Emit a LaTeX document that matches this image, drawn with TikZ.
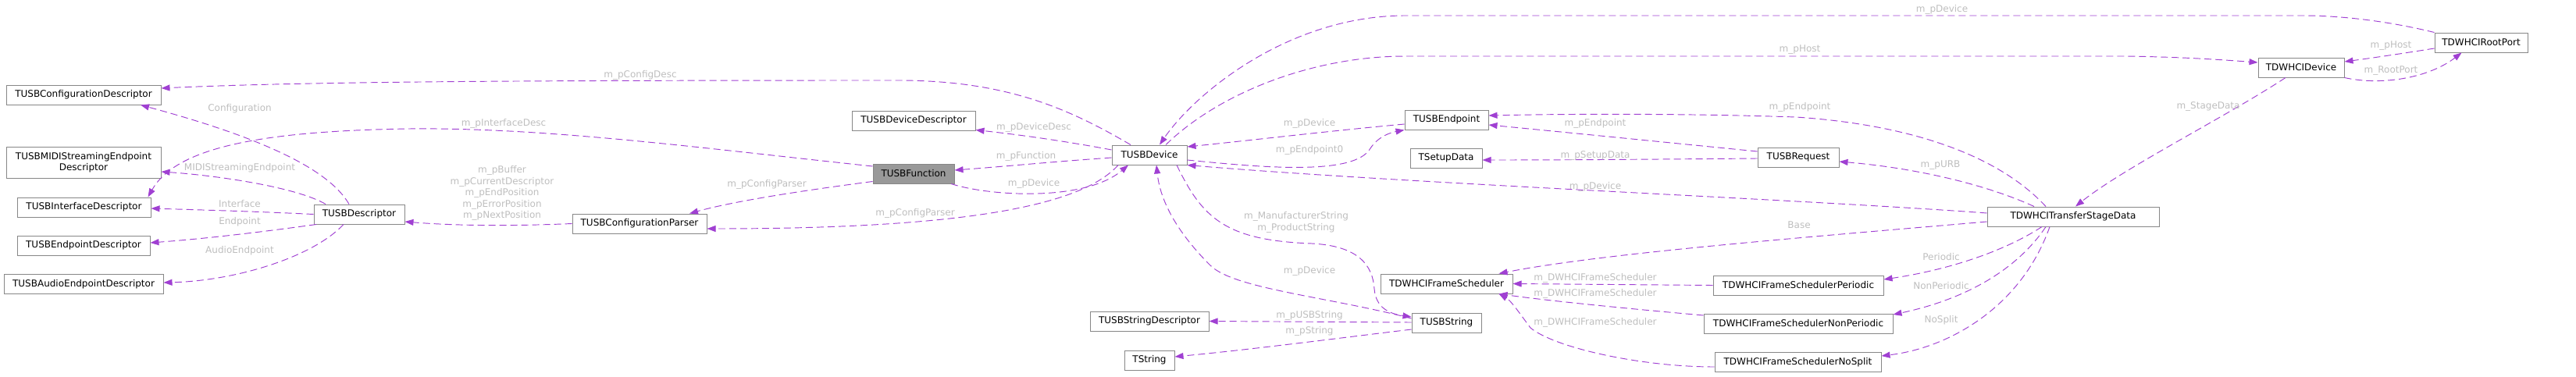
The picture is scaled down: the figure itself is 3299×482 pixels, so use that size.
\documentclass[tikz,border=0pt]{standalone}
\usepackage{fontspec}
\setmainfont{DejaVu Sans}
\usepackage{tikz}
\usetikzlibrary{arrows.meta}
\definecolor{edgepurple}{RGB}{160,64,210}
\definecolor{boxgray}{RGB}{135,135,135}
\definecolor{lblgray}{RGB}{190,190,190}
\definecolor{selgray}{RGB}{153,153,153}

\begin{document}
\begin{tikzpicture}[x=1pt,y=-1pt,
    cls/.style={draw=boxgray, line width=1pt, fill=white, minimum height=25pt, inner sep=0pt,
      font=\fontsize{12}{14.5}\selectfont, align=center},
    lbl/.style={font=\fontsize{12}{14.5}\selectfont, text=lblgray, inner sep=0pt, align=center},
    dep/.style={draw=edgepurple, line width=0.95pt, dash pattern=on 9pt off 5pt,
      -{Triangle[length=11pt,width=8pt]}}]
  \useasboundingbox (0,0) rectangle (3299,482);

  % classes
  \node[cls, minimum width=198pt] (cfgdesc) at (107,121.5) {TUSBConfigurationDescriptor};
  \node[cls, minimum width=198pt, minimum height=40pt] (mididesc) at (107,208) {TUSBMIDIStreamingEndpoint\\Descriptor};
  \node[cls, minimum width=171pt] (ifdesc) at (107.5,265.5) {TUSBInterfaceDescriptor};
  \node[cls, minimum width=170pt] (epdesc) at (107,314.5) {TUSBEndpointDescriptor};
  \node[cls, minimum width=204pt] (audiodesc) at (107,364) {TUSBAudioEndpointDescriptor};
  \node[cls, minimum width=116pt] (desc) at (460,274.5) {TUSBDescriptor};
  \node[cls, minimum width=172pt] (parser) at (819,286.5) {TUSBConfigurationParser};
  \node[cls, minimum width=158pt] (devdesc) at (1170,154.5) {TUSBDeviceDescriptor};
  \node[cls, minimum width=104pt, fill=selgray] (func) at (1170,222.5) {TUSBFunction};
  \node[cls, minimum width=96pt] (dev) at (1472,198.5) {TUSBDevice};
  \node[cls, minimum width=152pt] (strdesc) at (1472,411.5) {TUSBStringDescriptor};
  \node[cls, minimum width=64pt] (tstring) at (1472,461.5) {TString};
  \node[cls, minimum width=107pt] (endpoint) at (1852.5,153.5) {TUSBEndpoint};
  \node[cls, minimum width=92pt] (setup) at (1852,202.5) {TSetupData};
  \node[cls, minimum width=169pt] (sched) at (1852.5,363.5) {TDWHCIFrameScheduler};
  \node[cls, minimum width=89pt] (usbstr) at (1852.5,413.5) {TUSBString};
  \node[cls, minimum width=104pt] (request) at (2303,201.5) {TUSBRequest};
  \node[cls, minimum width=220pt] (stage) at (2655,277.5) {TDWHCITransferStageData};
  \node[cls, minimum width=218pt] (periodic) at (2303,365.5) {TDWHCIFrameSchedulerPeriodic};
  \node[cls, minimum width=242pt] (nonperiodic) at (2303,414.5) {TDWHCIFrameSchedulerNonPeriodic};
  \node[cls, minimum width=213pt] (nosplit) at (2302.5,464) {TDWHCIFrameSchedulerNoSplit};
  \node[cls, minimum width=110pt] (hcidev) at (2947,86.5) {TDWHCIDevice};
  \node[cls, minimum width=119pt] (rootport) at (3177.5,54.5) {TDWHCIRootPort};

  % descriptor side
  \draw[dep] ([xshift=-24pt]dev.north) .. controls (1370,140) and (1290,103) .. (1150,103)
    .. controls (700,103) and (400,104) .. ([yshift=8.5pt]cfgdesc.east);
  \draw[dep] ([yshift=9.5pt]func.west) .. controls (900,190) and (700,163) .. (523,165)
    .. controls (330,168) and (225,190) .. ([xshift=82pt]ifdesc.north);
  \draw[dep] ([xshift=-13pt]desc.north) .. controls (420,215) and (330,175) .. ([xshift=73pt]cfgdesc.south);
  \draw[dep] ([xshift=-43pt]desc.north) .. controls (380,240) and (280,225) .. ([yshift=-12pt]mididesc.east);
  \draw[dep] (desc.west) .. controls (330,271) and (260,269) .. ([yshift=-1.5pt]ifdesc.east);
  \draw[dep] ([xshift=-55pt]desc.south) .. controls (330,298) and (260,306) .. ([yshift=3.5pt]epdesc.east);
  \draw[dep] ([xshift=-20pt]desc.south) .. controls (400,330) and (300,360) .. ([yshift=2pt]audiodesc.east);
  \draw[dep] (parser.west) .. controls (650,290) and (580,289) .. ([yshift=-9.5pt]desc.east);
  \draw[dep] ([yshift=-10pt]func.west) .. controls (1060,240) and (950,255) .. ([xshift=64pt]parser.north);
  \draw[dep] ([xshift=-40pt]dev.south) .. controls (1380,270) and (1200,293) .. ([yshift=-6.5pt]parser.east);

  % device and function
  \draw[dep] ([yshift=6.5pt]dev.west) .. controls (1360,180) and (1300,172) .. ([yshift=1pt]devdesc.south east);
  \draw[dep] ([yshift=-3.5pt]dev.west) .. controls (1350,207) and (1290,213) .. ([yshift=4.5pt]func.east);
  \draw[dep] ([xshift=48pt]func.south) .. controls (1270,252) and (1390,258) .. ([xshift=-27pt]dev.south);
  \draw[dep] ([yshift=-5.5pt]endpoint.west) .. controls (1700,168) and (1600,180) .. ([yshift=10.5pt]dev.east);
  \draw[dep] ([yshift=-6.5pt]dev.east) .. controls (1620,215) and (1735,225) .. (1755,190)
    .. controls (1765,175) and (1780,170) .. (endpoint.south west);
  \draw[dep] (rootport.north west) .. controls (3050,25) and (2990,20) .. (2950,20) -- (1800,20)
    .. controls (1650,20) and (1530,120) .. ([xshift=13pt]dev.north);
  \draw[dep] ([xshift=21pt]dev.north) .. controls (1560,120) and (1680,72) .. (1800,72) -- (2720,72)
    .. controls (2800,73) and (2850,77) .. ([yshift=6.5pt]hcidev.west);
  \draw[dep] ([yshift=4.5pt]stage.west) .. controls (2300,255) and (1800,235) .. (dev.south east);

  % strings
  \draw[dep] ([xshift=35pt]dev.south) .. controls (1540,280) and (1570,308) .. (1680,312)
    .. controls (1740,315) and (1758,340) .. (1760,370)
    .. controls (1762,395) and (1780,402) .. ([yshift=7.5pt]usbstr.west);
  \draw[dep] ([yshift=5.5pt]usbstr.west) .. controls (1700,380) and (1580,370) .. (1550,340)
    .. controls (1500,290) and (1485,250) .. ([xshift=9pt]dev.south);
  \draw[dep] ([yshift=0.5pt]usbstr.west) -- (strdesc.east);
  \draw[dep] ([yshift=-8.5pt]usbstr.west) .. controls (1700,435) and (1600,448) .. ([yshift=4.5pt]tstring.east);

  % endpoint and request
  \draw[dep] ([xshift=-35pt]stage.north) .. controls (2560,200) and (2450,160) .. (2300,150)
    .. controls (2150,145) and (2000,146) .. ([yshift=5.5pt]endpoint.east);
  \draw[dep] ([yshift=7.5pt]request.west) .. controls (2130,182) and (2010,170) .. ([yshift=-6.5pt]endpoint.east);
  \draw[dep] ([yshift=-1.5pt]request.west) .. controls (2130,204) and (2010,205) .. ([yshift=-2.5pt]setup.east);
  \draw[dep] ([xshift=-50pt]stage.north) .. controls (2540,235) and (2450,215) .. ([yshift=-5.5pt]request.east);

  % host controller
  \draw[dep] ([xshift=-20pt]hcidev.south) .. controls (2850,150) and (2720,215) .. ([xshift=3pt]stage.north);
  \draw[dep] ([yshift=-7.5pt]rootport.west) .. controls (3080,68) and (3040,74) .. ([yshift=7.5pt]hcidev.east);
  \draw[dep] (hcidev.south east) .. controls (3050,110) and (3110,100) .. ([xshift=-25pt]rootport.south);

  % frame schedulers
  \draw[dep] ([yshift=-6.5pt]stage.west) .. controls (2300,305) and (2050,325) .. ([xshift=67pt]sched.north);
  \draw[dep] (periodic.west) -- (sched.east);
  \draw[dep] ([yshift=10.5pt]nonperiodic.west) .. controls (2080,395) and (1980,385) .. ([xshift=67pt]sched.south);
  \draw[dep] ([yshift=-6pt]nosplit.west) .. controls (2100,470) and (1990,445) .. (1960,420)
    .. controls (1945,400) and (1935,385) .. ([xshift=67pt]sched.south);
  \draw[dep] ([xshift=-40pt]stage.south) .. controls (2570,320) and (2500,345) .. ([yshift=7.5pt]periodic.east);
  \draw[dep] ([xshift=-35pt]stage.south) .. controls (2580,350) and (2510,385) .. ([yshift=11.5pt]nonperiodic.east);
  \draw[dep] ([xshift=-30pt]stage.south) .. controls (2590,390) and (2500,445) .. ([yshift=8pt]nosplit.east);

  % member names
  \node[lbl] (lcfgdesc) at (820,96) {m\_pConfigDesc};
  \node[lbl] (lifdesc) at (645,158) {m\_pInterfaceDesc};
  \node[lbl] (lconfig) at (307,139) {Configuration};
  \node[lbl] (lmidi) at (307,215) {MIDIStreamingEndpoint};
  \node[lbl] (liface) at (307,261) {Interface};
  \node[lbl] (lep) at (307,284) {Endpoint};
  \node[lbl] (laudio) at (307,321) {AudioEndpoint};
  \node[lbl] (lbuf) at (643,247.5) {m\_pBuffer\\m\_pCurrentDescriptor\\m\_pEndPosition\\m\_pErrorPosition\\m\_pNextPosition};
  \node[lbl] (lparser1) at (982,236) {m\_pConfigParser};
  \node[lbl] (lparser2) at (1172,273) {m\_pConfigParser};
  \node[lbl] (ldevdesc) at (1324,163) {m\_pDeviceDesc};
  \node[lbl] (lfunc) at (1314,200) {m\_pFunction};
  \node[lbl] (lfdev) at (1324,235) {m\_pDevice};
  \node[lbl] (ledev) at (1677,158) {m\_pDevice};
  \node[lbl] (lep0) at (1677,192) {m\_pEndpoint0};
  \node[lbl] (lrdev) at (2487,12) {m\_pDevice};
  \node[lbl] (lhost) at (2305,64) {m\_pHost};
  \node[lbl] (lsdev) at (2043,239) {m\_pDevice};
  \node[lbl] (lsep) at (2305,137) {m\_pEndpoint};
  \node[lbl] (lrep) at (2043,158) {m\_pEndpoint};
  \node[lbl] (lsetup) at (2043,199) {m\_pSetupData};
  \node[lbl] (lurb) at (2485,212) {m\_pURB};
  \node[lbl] (lstage) at (2828,136) {m\_StageData};
  \node[lbl] (lrhost) at (3062,59) {m\_pHost};
  \node[lbl] (lroot) at (3062,91) {m\_RootPort};
  \node[lbl] (lbase) at (2304,288) {Base};
  \node[lbl] (lsch1) at (2043,356) {m\_DWHCIFrameScheduler};
  \node[lbl] (lsch2) at (2043,376) {m\_DWHCIFrameScheduler};
  \node[lbl] (lsch3) at (2043,413) {m\_DWHCIFrameScheduler};
  \node[lbl] (lper) at (2486,329) {Periodic};
  \node[lbl] (lnonper) at (2486,366) {NonPeriodic};
  \node[lbl] (lnosplit) at (2486,410) {NoSplit};
  \node[lbl] (lstrings) at (1660,285) {m\_ManufacturerString\\m\_ProductString};
  \node[lbl] (lsdev2) at (1677,347) {m\_pDevice};
  \node[lbl] (lusbstr) at (1677,404) {m\_pUSBString};
  \node[lbl] (lstr) at (1677,424) {m\_pString};
\end{tikzpicture}
\end{document}
